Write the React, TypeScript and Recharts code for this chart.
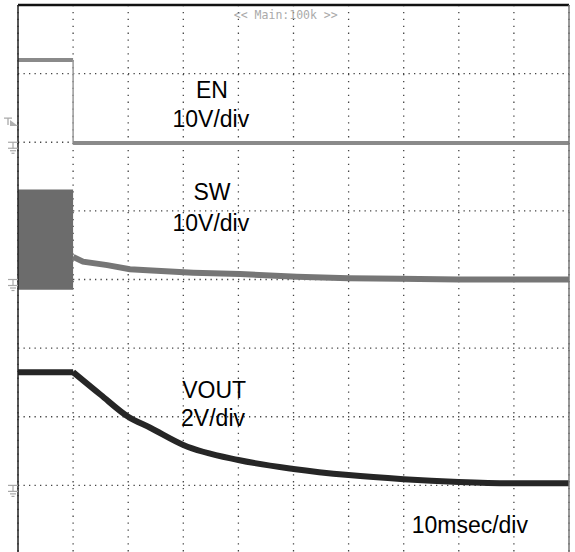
import { ComposedChart, Line, XAxis, YAxis, CartesianGrid, ReferenceLine, ReferenceArea, ReferenceDot } from 'recharts'

// time in msec (10 msec/div), level in divisions from the bottom of the screen
const timeTicks = [0, 10, 20, 30, 40, 50, 60, 70, 80, 90, 100]
const divTicks = [0, 1, 2, 3, 4, 5, 6, 7, 8]

const enHighTime = [0, 10]
const enHighLevel = [7.2, 7.2]
const enLowTime = [10, 100]
const enLowLevel = [5.99, 5.99]

const swBurstTime = [0, 10]
const swBurstLow = 3.85
const swBurstHigh = 5.31
const swTime = [10, 11.8, 16.2, 20.3, 24.3, 31.8, 40.3, 50.6, 60, 69.3, 80, 100]
const swLevel = [4.33, 4.26, 4.21, 4.15, 4.13, 4.1, 4.08, 4.04, 4.02, 4.01, 4.0, 4.0]

const voutFlatTime = [0, 10]
const voutFlatLevel = [2.65, 2.65]
const voutTime = [10, 15, 20, 24, 30, 40, 50, 60, 70, 80, 90, 100]
const voutLevel = [2.65, 2.32, 2.0, 1.84, 1.59, 1.37, 1.24, 1.15, 1.09, 1.05, 1.03, 1.03]

const groundLevels = [6, 4, 1]
const triggerLevel = 6.25

const labels = [
  { text: 'EN', t: 35.2, y: 6.65 },
  { text: '10V/div', t: 35.0, y: 6.22 },
  { text: 'SW', t: 35.2, y: 5.16 },
  { text: '10V/div', t: 35.0, y: 4.71 },
  { text: 'VOUT', t: 35.6, y: 2.27 },
  { text: '2V/div', t: 35.4, y: 1.87 },
  { text: '10msec/div', t: 82.0, y: 0.31 },
]

const zip = (ts: number[], vs: number[]) => ts.map((t, i) => ({ t, v: vs[i] }))
const enHigh = zip(enHighTime, enHighLevel)
const enLow = zip(enLowTime, enLowLevel)
const enEdge = zip([enHighTime[1], enLowTime[0]], [enHighLevel[1], enLowLevel[0]])
const swData = zip(swTime, swLevel)
const voutFlat = zip(voutFlatTime, voutFlatLevel)
const voutData = zip(voutTime, voutLevel)

const GroundMark = ({ cx, cy }: any) => (
  <g stroke="#a8a8a8" strokeWidth={1.2} fill="none">
    <line x1={cx - 10} y1={cy} x2={cx} y2={cy} />
    <line x1={cx - 5} y1={cy} x2={cx - 5} y2={cy + 6} />
    <line x1={cx - 10} y1={cy + 6} x2={cx} y2={cy + 6} />
    <line x1={cx - 8} y1={cy + 8.5} x2={cx - 2} y2={cy + 8.5} />
    <line x1={cx - 6.5} y1={cy + 11} x2={cx - 3.5} y2={cy + 11} />
  </g>
)

const TriggerMark = ({ cx, cy }: any) => (
  <g>
    <path d={`M${cx - 14},${cy - 7} h8 M${cx - 10},${cy - 7} v7`} stroke="#aaa" strokeWidth={1.3} fill="none" />
    <path d={`M${cx - 8},${cy - 5} L${cx},${cy + 1} L${cx - 8},${cy + 1} Z`} fill="#b0b0b0" />
  </g>
)

const font = '"Liberation Sans", Arial, sans-serif'

export default function App() {
  return (
    <div style={{ position: 'absolute', left: 0, top: 0, width: 575, height: 552, overflow: 'hidden', background: '#fff' }}>
      <ComposedChart width={575} height={560} margin={{ top: 5, right: 6, bottom: 6, left: 18 }}>
        <XAxis type="number" dataKey="t" domain={[0, 100]} ticks={timeTicks} hide allowDuplicatedCategory={false} />
        <YAxis type="number" domain={[0, 8]} ticks={divTicks} hide />
        <CartesianGrid vertical={false} stroke="#444" strokeWidth={1.3} strokeDasharray="1.3 4.2" />
        <CartesianGrid horizontal={false} stroke="#444" strokeWidth={1.3} strokeDasharray="1.3 5.6" />

        <ReferenceArea x1={swBurstTime[0]} x2={swBurstTime[1]} y1={swBurstLow} y2={swBurstHigh}
          fill="#6c6c6c" fillOpacity={1} stroke="none" ifOverflow="extendDomain" />

        <Line data={enHigh} dataKey="v" type="linear" stroke="#8a8a8a" strokeWidth={4} dot={false} isAnimationActive={false} />
        <Line data={enEdge} dataKey="v" type="linear" stroke="#999" strokeWidth={1.5} dot={false} isAnimationActive={false} />
        <Line data={enLow} dataKey="v" type="linear" stroke="#8a8a8a" strokeWidth={4} dot={false} isAnimationActive={false} />
        <Line data={swData} dataKey="v" type="linear" stroke="#767676" strokeWidth={6} dot={false} isAnimationActive={false} />
        <Line data={voutFlat} dataKey="v" type="linear" stroke="#262626" strokeWidth={6} dot={false} isAnimationActive={false} />
        <Line data={voutData} dataKey="v" type="monotone" stroke="#262626" strokeWidth={6} dot={false} isAnimationActive={false} />

        <ReferenceLine y={8} stroke="#111" strokeWidth={2.5} />
        <ReferenceLine x={0} stroke="#222" strokeWidth={1.5} />
        <ReferenceLine x={100} stroke="#777" strokeWidth={1.5} />

        {groundLevels.map((g, i) => (
          <ReferenceDot key={'g' + i} x={0} y={g} r={0} shape={GroundMark} ifOverflow="visible" />
        ))}
        <ReferenceDot x={0} y={triggerLevel} r={0} shape={TriggerMark} ifOverflow="visible" />

        <ReferenceDot x={48.6} y={7.79} r={0} ifOverflow="visible" shape={({ cx, cy }: any) => (
          <text x={cx} y={cy} textAnchor="middle" fontFamily='"DejaVu Sans Mono", monospace' fontSize={11.5} fill="#aaa">{'<< Main:100k >>'}</text>
        )} />

        {labels.map((l, i) => (
          <ReferenceDot key={'l' + i} x={l.t} y={l.y} r={0} ifOverflow="visible" shape={({ cx, cy }: any) => (
            <text x={cx} y={cy} textAnchor="middle" fontFamily={font} fontSize={23} fill="#000">{l.text}</text>
          )} />
        ))}
      </ComposedChart>
    </div>
  )
}
